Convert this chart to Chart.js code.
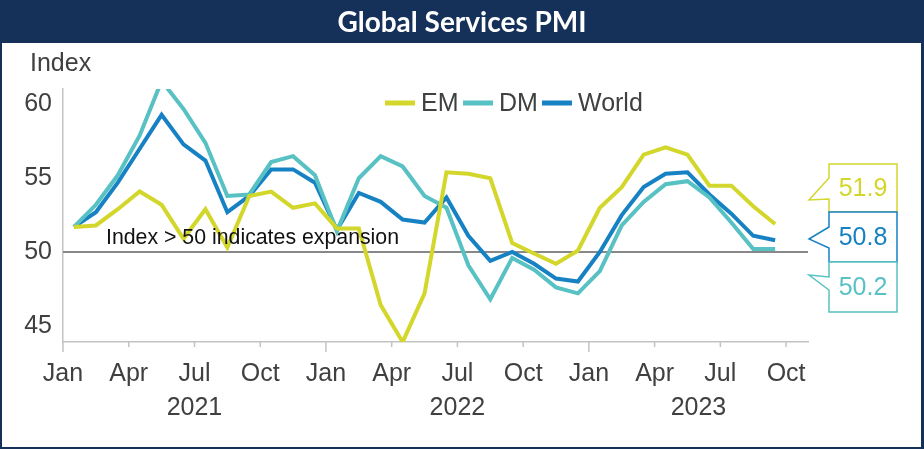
<!DOCTYPE html>
<html>
<head>
<meta charset="utf-8">
<script src="https://cdn.jsdelivr.net/npm/chart.js@4"></script>
<style>
  html, body { margin: 0; padding: 0; background: #fff; }
  #wrap { width: 924px; height: 449px; }
</style>
</head>
<body>
<div id="wrap"><canvas id="pmiChart" width="924" height="449"></canvas></div>
<script>
// monthly data, Jan 2021 - Sep 2023
var months = ['Jan 21','Feb 21','Mar 21','Apr 21','May 21','Jun 21','Jul 21','Aug 21','Sep 21','Oct 21','Nov 21','Dec 21',
              'Jan 22','Feb 22','Mar 22','Apr 22','May 22','Jun 22','Jul 22','Aug 22','Sep 22','Oct 22','Nov 22','Dec 22',
              'Jan 23','Feb 23','Mar 23','Apr 23','May 23','Jun 23','Jul 23','Aug 23','Sep 23'];
var emValues = [51.7, 51.8, 52.9, 54.1, 53.2, 50.9, 52.9, 50.3, 53.8, 54.1, 53.0, 53.3,
                51.6, 51.6, 46.4, 43.9, 47.2, 55.4, 55.3, 55.0, 50.6, 49.9, 49.2, 50.1,
                53.0, 54.4, 56.6, 57.1, 56.6, 54.5, 54.5, 53.1, 51.9];
var dmValues = [51.7, 53.2, 55.2, 57.9, 61.6, 59.7, 57.4, 53.8, 53.9, 56.1, 56.5, 55.2,
                51.4, 55.0, 56.5, 55.8, 53.8, 53.0, 49.1, 46.8, 49.6, 48.8, 47.6, 47.2,
                48.7, 51.8, 53.4, 54.6, 54.8, 53.7, 52.0, 50.2, 50.2];
var worldValues = [51.7, 52.7, 54.7, 57.0, 59.3, 57.3, 56.2, 52.7, 53.8, 55.6, 55.6, 54.7,
                   51.5, 54.0, 53.4, 52.2, 52.0, 53.7, 51.1, 49.4, 50.0, 49.2, 48.2, 48.0,
                   50.0, 52.5, 54.4, 55.3, 55.4, 53.9, 52.6, 51.1, 50.8];
var monthTicks = ['Jan','Apr','Jul','Oct','Jan','Apr','Jul','Oct','Jan','Apr','Jul','Oct'];
var yearLabels = ['2021', '2022', '2023'];
var yTicks = [45, 50, 55, 60];
var threshold = 50;

var EM_COLOR = '#d3d62b';
var DM_COLOR = '#57c1c4';
var WORLD_COLOR = '#1681c3';
var NAVY = '#15315a';
var GREY_TEXT = '#404040';
var AXIS_GREY = '#c3c3c3';
var FONT = '"Liberation Sans", Arial, sans-serif';

function toPoints(values) {
    return values.map(function(v, i) { return { x: i, y: v }; });
}

function drawCallout(ctx, color, box, tip, top, bottom, text) {
    ctx.save();
    ctx.beginPath();
    ctx.moveTo(box.x, box.y);
    ctx.lineTo(box.x + box.w, box.y);
    ctx.lineTo(box.x + box.w, box.y + box.h);
    ctx.lineTo(box.x, box.y + box.h);
    ctx.lineTo(box.x, bottom);
    ctx.lineTo(tip.x, tip.y);
    ctx.lineTo(box.x, top);
    ctx.closePath();
    ctx.fillStyle = '#fff';
    ctx.fill();
    ctx.strokeStyle = color;
    ctx.lineWidth = 1.5;
    ctx.stroke();
    ctx.fillStyle = color;
    ctx.font = '25px ' + FONT;
    ctx.textAlign = 'center';
    ctx.textBaseline = 'middle';
    ctx.fillText(text, box.x + box.w / 2, box.y + box.h / 2 + 1);
    ctx.restore();
}

var decorPlugin = {
    id: 'decor',
    beforeDraw: function(chart) {
        var ctx = chart.ctx;
        ctx.save();
        ctx.fillStyle = '#fff';
        ctx.fillRect(0, 0, chart.width, chart.height);
        // title bar and frame
        ctx.fillStyle = NAVY;
        ctx.fillRect(0, 0, chart.width, 43);
        ctx.fillRect(0, 0, 2, chart.height);
        ctx.fillRect(chart.width - 3, 0, 3, chart.height);
        ctx.fillRect(0, chart.height - 2, chart.width, 2);
        ctx.fillStyle = '#fff';
        ctx.font = 'bold 28px Lato, "Open Sans", sans-serif';
        ctx.textAlign = 'center';
        ctx.textBaseline = 'middle';
        ctx.fillText('Global Services PMI', 462, 23);
        ctx.fillStyle = GREY_TEXT;
        ctx.font = '25px ' + FONT;
        ctx.textAlign = 'left';
        ctx.fillText('Index', 30, 64);
        ctx.restore();
    },
    beforeDatasetsDraw: function(chart) {
        var ctx = chart.ctx;
        var area = chart.chartArea;
        var y = chart.scales.y.getPixelForValue(threshold);
        ctx.save();
        ctx.strokeStyle = '#888';
        ctx.lineWidth = 2;
        ctx.beginPath();
        ctx.moveTo(area.left, y);
        ctx.lineTo(area.right, y);
        ctx.stroke();
        ctx.restore();
    },
    afterDatasetsDraw: function(chart) {
        var ctx = chart.ctx;
        var y = chart.scales.y.getPixelForValue(threshold);
        ctx.save();
        ctx.fillStyle = '#111';
        ctx.font = '21.3px ' + FONT;
        ctx.textAlign = 'left';
        ctx.textBaseline = 'middle';
        ctx.fillText('Index > 50 indicates expansion', 106, y - 14);
        ctx.restore();
    },
    afterDraw: function(chart) {
        var ctx = chart.ctx;
        var xs = chart.scales.x;
        var bottom = chart.chartArea.bottom;
        ctx.save();
        // tick marks, longer at each January
        ctx.strokeStyle = AXIS_GREY;
        ctx.lineWidth = 1.5;
        xs.ticks.forEach(function(t, i) {
            var px = xs.getPixelForValue(t.value);
            ctx.beginPath();
            ctx.moveTo(px, bottom);
            ctx.lineTo(px, bottom + (i % 4 === 0 ? 10 : 5));
            ctx.stroke();
        });
        // year labels
        ctx.fillStyle = GREY_TEXT;
        ctx.font = '25px ' + FONT;
        ctx.textAlign = 'center';
        ctx.textBaseline = 'middle';
        var yearCentres = [5.5, 17.5, 28.5];
        yearLabels.forEach(function(label, i) {
            ctx.fillText(label, xs.getPixelForValue(yearCentres[i]), 408);
        });
        // legend
        var legend = [
            { label: 'EM', color: EM_COLOR, x: 385 },
            { label: 'DM', color: DM_COLOR, x: 463 },
            { label: 'World', color: WORLD_COLOR, x: 542 }
        ];
        ctx.textAlign = 'left';
        legend.forEach(function(item) {
            ctx.strokeStyle = item.color;
            ctx.lineWidth = 5;
            ctx.beginPath();
            ctx.moveTo(item.x, 103);
            ctx.lineTo(item.x + 30, 103);
            ctx.stroke();
            ctx.fillStyle = GREY_TEXT;
            ctx.fillText(item.label, item.x + 36, 104);
        });
        ctx.restore();
        // latest value callouts
        var last = emValues.length - 1;
        drawCallout(ctx, EM_COLOR, { x: 829, y: 164, w: 68, h: 48 }, { x: 809, y: 200 }, 178, 199, emValues[last].toFixed(1));
        drawCallout(ctx, WORLD_COLOR, { x: 829, y: 212, w: 68, h: 50 }, { x: 809, y: 239 }, 227, 248, worldValues[last].toFixed(1));
        drawCallout(ctx, DM_COLOR, { x: 829, y: 262, w: 68, h: 50 }, { x: 809, y: 275 }, 277, 290, dmValues[last].toFixed(1));
    }
};

var ctx = document.getElementById('pmiChart').getContext('2d');
new Chart(ctx, {
    type: 'line',
    data: {
        labels: months,
        datasets: [
            { label: 'EM', data: toPoints(emValues), borderColor: EM_COLOR, borderWidth: 4 },
            { label: 'DM', data: toPoints(dmValues), borderColor: DM_COLOR, borderWidth: 4 },
            { label: 'World', data: toPoints(worldValues), borderColor: WORLD_COLOR, borderWidth: 4 }
        ]
    },
    options: {
        responsive: false,
        animation: false,
        layout: { padding: { top: 89, right: 116, left: 0, bottom: 0 } },
        elements: {
            point: { radius: 0, hoverRadius: 0 },
            line: { tension: 0, fill: false }
        },
        plugins: {
            legend: { display: false },
            title: { display: false },
            tooltip: { enabled: false }
        },
        scales: {
            x: {
                type: 'linear',
                min: -0.5,
                max: 33.5,
                afterFit: function(scale) { scale.height = 107; },
                afterBuildTicks: function(scale) {
                    scale.ticks = monthTicks.map(function(m, i) { return { value: -0.5 + i * 3 }; });
                },
                grid: { display: false, drawTicks: false, tickLength: 0 },
                border: { display: true, color: AXIS_GREY, width: 1.5 },
                ticks: {
                    autoSkip: false,
                    maxRotation: 0,
                    padding: 17,
                    color: GREY_TEXT,
                    font: { family: FONT, size: 25 },
                    callback: function(value, index) { return monthTicks[index]; }
                }
            },
            y: {
                min: 43.9,
                max: 61.05,
                afterFit: function(scale) { scale.width = 63; },
                afterBuildTicks: function(scale) {
                    scale.ticks = yTicks.map(function(v) { return { value: v }; });
                },
                grid: { display: false, drawTicks: false, tickLength: 0 },
                border: { display: true, color: AXIS_GREY, width: 1.5 },
                ticks: {
                    padding: 11,
                    color: GREY_TEXT,
                    font: { family: FONT, size: 25 }
                }
            }
        }
    },
    plugins: [decorPlugin]
});
</script>
</body>
</html>
